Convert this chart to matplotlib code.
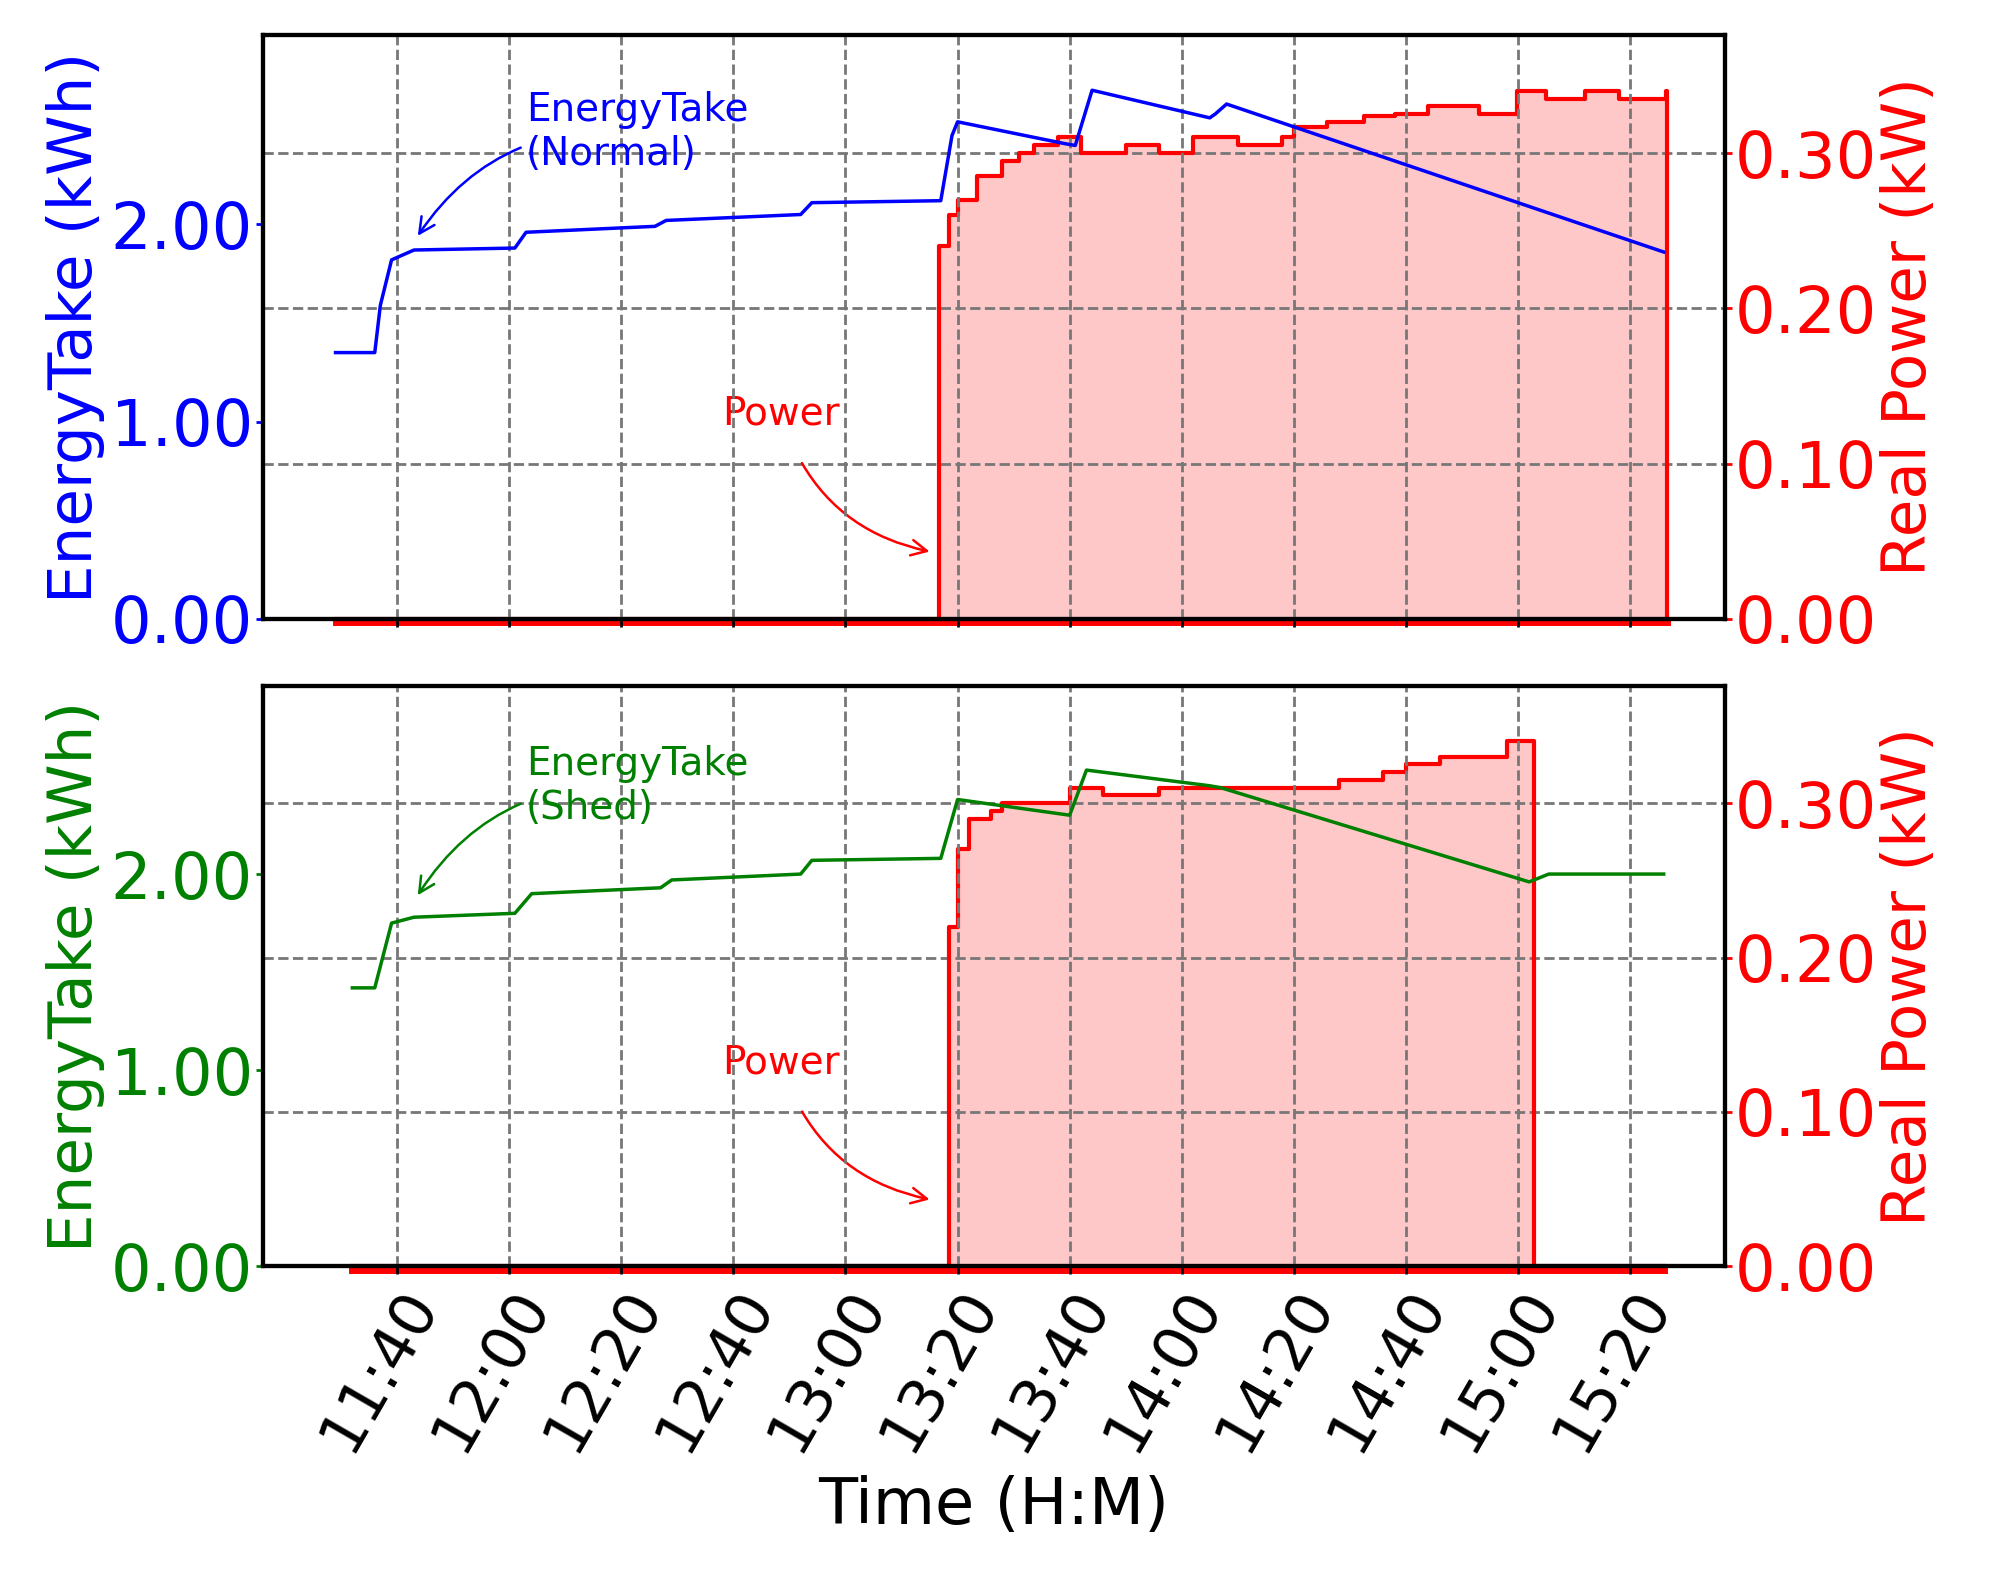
import matplotlib.pyplot as plt
from matplotlib.ticker import FixedLocator, FuncFormatter

# time in minutes since midnight
t_normal = [689, 696, 697, 699, 703, 721, 723, 746, 748, 772, 774, 797, 799, 800,
            819, 821, 824, 845, 846, 848, 926]
e_normal = [1.35, 1.35, 1.59, 1.82, 1.87, 1.88, 1.96, 1.99, 2.02, 2.05, 2.11, 2.12, 2.45, 2.52,
            2.41, 2.40, 2.68, 2.54, 2.56, 2.61, 1.86]

t_pow_normal = [689, 796.3, 796.6, 797.8, 798.5, 800.1, 803.5, 808, 811, 813.7, 818, 822, 830, 836,
                842, 850, 857.9, 860.1, 866, 872.6, 878, 884, 887.3, 893, 899.8, 905, 912, 918, 926.5, 926.6, 926.6]
p_normal = [0.0, 0.0, 0.24, 0.24, 0.26, 0.27, 0.285, 0.295, 0.30, 0.305, 0.31, 0.30, 0.305, 0.30,
            0.31, 0.305, 0.31, 0.317, 0.32, 0.324, 0.325, 0.33, 0.33, 0.325, 0.34, 0.335, 0.34, 0.335, 0.34, 0.34, 0.0]

t_shed = [692, 696, 699, 703, 721, 724, 747, 749, 772, 774, 797, 800, 820, 823, 845, 847, 902, 905.5, 926]
e_shed = [1.42, 1.42, 1.75, 1.78, 1.80, 1.90, 1.93, 1.97, 2.00, 2.07, 2.08, 2.38, 2.30, 2.53, 2.45, 2.44, 1.96, 2.00, 2.00]

t_pow_shed = [692, 797.8, 798.5, 800.1, 802, 806, 808, 812, 820, 826, 836, 845, 852, 860, 868, 876,
              880, 886, 893, 898, 901.5, 902.8, 926]
p_shed = [0.0, 0.0, 0.22, 0.27, 0.29, 0.295, 0.30, 0.30, 0.31, 0.305, 0.31, 0.31, 0.31, 0.31, 0.315, 0.32,
          0.325, 0.33, 0.33, 0.34, 0.34, 0.0, 0.0]

xticks = [700, 720, 740, 760, 780, 800, 820, 840, 860, 880, 900, 920]

plt.rcParams['font.family'] = 'DejaVu Sans'

fig = plt.figure(figsize=(19.9, 15.91), dpi=100)
ax_top = fig.add_axes([0.132, 0.611, 0.735, 0.367])
ax_bot = fig.add_axes([0.132, 0.204, 0.735, 0.365])


def draw(ax, t_e, e, ecolor, t_p, p, label, ann):
    ax.plot(t_e, e, color=ecolor, lw=2.5)
    ax.set_xlim(676, 937)
    ax.set_ylim(0, 2.96)
    ax.set_yticks([0, 1, 2])
    ax.yaxis.set_major_formatter(FuncFormatter(lambda v, _: f'{v:.2f}'))
    ax.tick_params(axis='y', colors=ecolor, labelsize=46, width=2, length=5, pad=2)
    ax.set_ylabel('EnergyTake (kWh)', color=ecolor, fontsize=44, labelpad=4)
    ax.xaxis.set_major_locator(FixedLocator(xticks))
    ax.grid(axis='x', color='#777777', ls='--', lw=2)
    for s in ax.spines.values():
        s.set_linewidth(3)
    ax.annotate(label, xy=(ann[0], ann[1]), xytext=(723, ann[2]), color=ecolor, fontsize=28,
                arrowprops=dict(arrowstyle='->', color=ecolor, lw=1.8, connectionstyle='arc3,rad=0.3'))

    ax2 = ax.twinx()
    ax2.step(t_p, p, where='post', color='red', lw=3, clip_on=False)
    ax2.fill_between(t_p, p, step='post', color='#ffc8c8', lw=0)
    ax2.plot([t_p[0], t_p[-1]], [-0.002, -0.002], color='red', lw=5, clip_on=False)
    ax2.set_ylim(0, 0.376)
    ax2.set_yticks([0, 0.1, 0.2, 0.3])
    ax2.yaxis.set_major_formatter(FuncFormatter(lambda v, _: f'{v:.2f}'))
    ax2.tick_params(axis='y', colors='red', labelsize=46, width=2, length=5, pad=2)
    ax2.set_ylabel('Real Power (kW)', color='red', fontsize=44, labelpad=2)
    ax2.grid(axis='y', color='#777777', ls='--', lw=2)
    ax.set_zorder(ax2.get_zorder() + 1)
    ax.patch.set_visible(False)
    ax2.annotate('Power', xy=(795.5, 0.043), xytext=(758, 0.125), color='red', fontsize=28,
                 arrowprops=dict(arrowstyle='->', color='red', lw=1.8, connectionstyle='arc3,rad=0.3',
                                 shrinkA=22))
    for s in ax2.spines.values():
        s.set_linewidth(3)
    return ax2


draw(ax_top, t_normal, e_normal, 'blue', t_pow_normal, p_normal, 'EnergyTake\n(Normal)', (703.4, 1.93, 2.3))
draw(ax_bot, t_shed, e_shed, 'green', t_pow_shed, p_shed, 'EnergyTake\n(Shed)', (703.4, 1.88, 2.28))

ax_top.tick_params(axis='x', labelbottom=False, width=2, length=6)
ax_bot.tick_params(axis='x', labelsize=44, width=2, length=6)
ax_bot.set_xticklabels([f'{m // 60}:{m % 60:02d}' for m in xticks], rotation=60, ha='right', rotation_mode='anchor')
ax_bot.set_xlabel('Time (H:M)', fontsize=46, labelpad=10)

fig.savefig('out.png', dpi=100)
